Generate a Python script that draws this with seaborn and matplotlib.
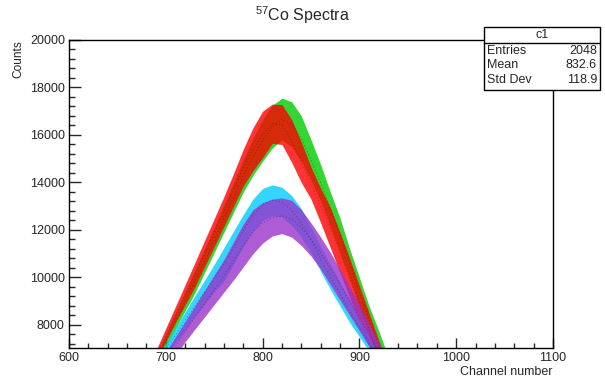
import numpy as np
import pandas as pd
import matplotlib
matplotlib.use("Agg")
import matplotlib.pyplot as plt
from matplotlib.patches import Rectangle
from matplotlib.lines import Line2D
from matplotlib.ticker import MultipleLocator
import seaborn as sns

# channel grid the envelopes were read at
channels = [690, 700, 710, 720, 730, 740, 750, 760, 770, 780, 790, 800, 810,
            820, 830, 840, 850, 860, 870, 880, 890, 900, 910, 920, 930]

# upper / lower edge of each noisy spectrum (counts)
green_hi = [6700, 7600, 8500, 9400, 10300, 11200, 12100, 13050, 14000, 14950, 15850, 16650, 17250,
            17550, 17400, 16800, 15800, 14750, 13600, 12500, 11200, 10000, 8800, 7750, 6650]
green_lo = [6250, 7050, 7850, 8600, 9350, 10200, 11050, 11900, 12750, 13600, 14300, 14900, 15450,
            15800, 15500, 14900, 14100, 13200, 12150, 11050, 9950, 8800, 7650, 6500, 5400]
red_hi = [6940, 7860, 8780, 9700, 10620, 11550, 12470, 13400, 14380, 15390, 16300, 17000, 17300,
          17280, 16650, 15700, 14650, 13750, 12950, 11900, 10800, 9650, 8500, 7350, 6200]
red_lo = [6500, 7300, 8100, 8850, 9600, 10450, 11300, 12150, 13000, 13850, 14500, 15050, 15650,
          15600, 14850, 14000, 13300, 12300, 11250, 10200, 9150, 8100, 7050, 6000, 5000]
cyan_hi = [6500, 7200, 7880, 8550, 9220, 9880, 10550, 11250, 11950, 12650, 13300, 13750, 13900,
           13800, 13450, 12900, 12100, 11300, 10550, 9800, 9050, 8300, 7550, 6800, 6050]
cyan_lo = [6150, 6700, 7260, 7800, 8350, 8880, 9400, 9860, 10550, 11300, 11950, 12400, 12600,
           12550, 12200, 11700, 11050, 10250, 9500, 8800, 8100, 7500, 6900, 6300, 5700]
purple_hi = [6200, 6850, 7500, 8150, 8800, 9450, 10100, 10750, 11500, 12250, 12850, 13150, 13300,
             13350, 13250, 12850, 12300, 11700, 11050, 10350, 9600, 8850, 8050, 7250, 6450]
purple_lo = [5700, 6200, 6700, 7300, 7820, 8340, 8860, 9380, 9900, 10450, 11000, 11450, 11750,
             11850, 11700, 11350, 10900, 10350, 9700, 9050, 8400, 7750, 7100, 6400, 5700]

series = ["green", "red", "cyan", "purple"]
colors = ["#00cc00", "#ff0000", "#00ccff", "#9933cc"]
edges = {"green": (green_lo, green_hi), "red": (red_lo, red_hi),
         "cyan": (cyan_lo, cyan_hi), "purple": (purple_lo, purple_hi)}

rows = []
for s in series:
    lo, hi = edges[s]
    for ch, a, b in zip(channels, lo, hi):
        rows.append((s, ch, a))
        rows.append((s, ch, b))
df = pd.DataFrame(rows, columns=["series", "channel", "counts"])

sns.set_style("ticks")
plt.rcParams["font.family"] = ["Liberation Sans", "DejaVu Sans"]

fig = plt.figure(figsize=(6.05, 3.81), dpi=100)
ax = fig.add_axes([69 / 605, 1 - 348 / 381, (553 - 69) / 605, (348 - 40) / 381])

sns.lineplot(data=df, x="channel", y="counts", hue="series", hue_order=series,
             palette=colors, estimator="mean", errorbar=("pi", 100),
             err_kws={"alpha": 0.8, "linewidth": 0}, linewidth=0.8,
             legend=False, ax=ax)
# faint dotted centre like the bin markers in the original
for ln in ax.lines:
    ln.set_color((0.2, 0.1, 0.1, 0.35))
    ln.set_linestyle((0, (1, 2)))

ax.set_xlim(600, 1100)
ax.set_ylim(7030, 20000)
ax.xaxis.set_major_locator(MultipleLocator(100))
ax.xaxis.set_minor_locator(MultipleLocator(20))
ax.yaxis.set_major_locator(MultipleLocator(2000))
ax.yaxis.set_minor_locator(MultipleLocator(400))
ax.tick_params(which="both", direction="in", top=False, right=False,
               width=1, labelsize=9, pad=3)
ax.tick_params(axis="x", which="major", length=7)
ax.tick_params(axis="x", which="minor", length=3.5)
ax.tick_params(axis="y", which="major", length=8.5)
ax.tick_params(axis="y", which="minor", length=4.5)
for sp in ax.spines.values():
    sp.set_linewidth(1)
    sp.set_color("black")

ax.set_xlabel("")
ax.set_ylabel("")
fig.text(553 / 605, 1 - 372 / 381, "Channel number", ha="right", va="center", fontsize=9)
fig.text(18 / 605, 1 - 40 / 381, "Counts", ha="center", va="top", rotation=90, fontsize=8.6)
fig.text(302 / 605, 1 - 15 / 381, r"$\mathregular{^{57}}$Co Spectra", ha="center",
         va="center", fontsize=11.5)

# stats box
bx0, bx1 = 484 / 605, 600 / 605
by0, by1 = 1 - 90 / 381, 1 - 27 / 381
fig.patches.append(Rectangle((bx0, by0), bx1 - bx0, by1 - by0, transform=fig.transFigure,
                             facecolor="white", edgecolor="black", linewidth=1, zorder=5))
fig.lines.append(Line2D([bx0, bx1], [1 - 43 / 381] * 2, transform=fig.transFigure,
                        color="black", linewidth=1, zorder=6))
fig.text((bx0 + bx1) / 2, 1 - 35 / 381, "c1", ha="center", va="center", fontsize=9, zorder=7)
labels = ["Entries", "Mean", "Std Dev"]
values = ["2048", "832.6", "118.9"]
for i, (lab, val) in enumerate(zip(labels, values)):
    yy = 1 - (51 + 14.5 * i) / 381
    fig.text(487 / 605, yy, lab, ha="left", va="center", fontsize=9, zorder=7)
    fig.text(597 / 605, yy, val, ha="right", va="center", fontsize=9, zorder=7)

fig.savefig("out.png", dpi=100, facecolor="white")
